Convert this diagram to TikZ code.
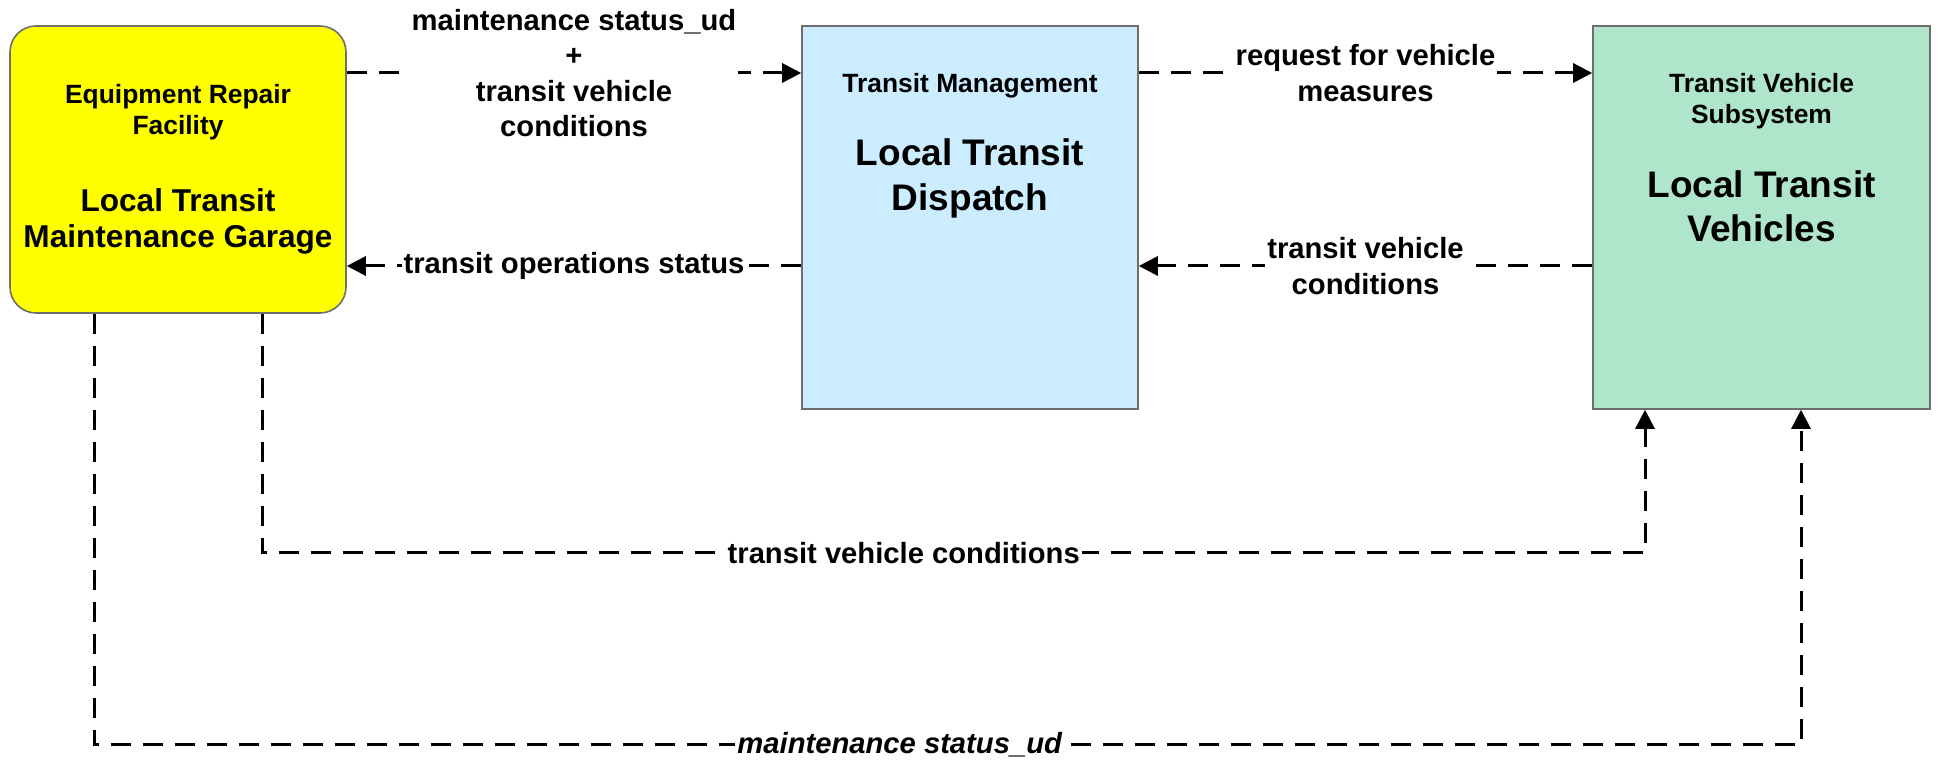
\documentclass[tikz,border=0pt]{standalone}
\usepackage{fontspec}
\setmainfont{Liberation Sans}
\usetikzlibrary{arrows.meta}
\definecolor{boxgray}{RGB}{110,110,110}
\definecolor{ylwfill}{RGB}{255,255,0}
\definecolor{blufill}{RGB}{204,236,255}
\definecolor{grnfill}{RGB}{174,229,203}
\newcommand{\labfont}{\fontsize{14.6}{17.6}\selectfont\bfseries}
\newcommand{\smfont}{\fontsize{13.2}{15.6}\selectfont\bfseries}
\newcommand{\bigfont}{\fontsize{18.5}{22}\selectfont\bfseries}
\newcommand{\ybigfont}{\fontsize{15.8}{18.6}\selectfont\bfseries}
\begin{document}
\begin{tikzpicture}[x=0.5pt,y=-0.5pt,
  box/.style={draw=boxgray, line width=0.8pt, inner sep=0pt, minimum width=168pt},
  flow/.style={line width=1.5pt, dash pattern=on 10pt off 6pt, -{Triangle[length=9.5pt,width=9.5pt]}},
  lab/.style={fill=white, inner xsep=1pt, inner ysep=0pt, align=center, font=\labfont},
  smtxt/.style={anchor=base, font=\smfont, inner sep=0pt},
  bigtxt/.style={anchor=base, font=\bigfont, inner sep=0pt},
  ybigtxt/.style={anchor=base, font=\ybigfont, inner sep=0pt}]
\useasboundingbox (0,0) rectangle (1939,763);
% boxes
\node[box, fill=ylwfill, rounded corners=13pt, minimum height=143.5pt] (ylw) at (178,169.5) {};
\node[box, fill=blufill, minimum height=191.5pt] (blu) at (970,217.5) {};
\node[box, fill=grnfill, minimum width=168.5pt, minimum height=191.5pt] (grn) at (1761.5,217.5) {};
% box texts
\node[smtxt] (ylw1) at (178,104) {Equipment Repair};
\node[smtxt] (ylw2) at (178,135) {Facility};
\node[ybigtxt] (ylw3) at (178,212) {Local Transit};
\node[ybigtxt] (ylw4) at (178,248) {Maintenance Garage};
\node[smtxt] (blu1) at (970,93) {Transit Management};
\node[bigtxt] (blu2) at (970,166) {Local Transit};
\node[bigtxt] (blu3) at (970,211) {Dispatch};
\node[smtxt] (grn1) at (1761.5,93) {Transit Vehicle};
\node[smtxt] (grn2) at (1761.5,124) {Subsystem};
\node[bigtxt] (grn3) at (1761.5,198) {Local Transit};
\node[bigtxt] (grn4) at (1761.5,242) {Vehicles};
% helper coordinates
\coordinate (ytop) at (0,73);
\coordinate (ymid) at (0,266);
\coordinate (p1) at (262,553);
\coordinate (p2) at (1645,553);
\coordinate (q1) at (94,745);
\coordinate (q2) at (1801,745);
% connectors
\draw[flow] (ylw.east |- ytop) -- node[lab] {maintenance status\_ud\\+\\transit vehicle\\conditions} (blu.west |- ytop);
\draw[flow] (blu.west |- ymid) -- node[lab] {transit operations status} (ylw.east |- ymid);
\draw[flow] (blu.east |- ytop) -- node[lab] {request for vehicle\\measures} (grn.west |- ytop);
\draw[flow] (grn.west |- ymid) -- node[lab] {transit vehicle\\conditions} (blu.east |- ymid);
\draw[flow] (ylw.south -| p1) -- (p1) -- node[lab, pos=0.464] {transit vehicle conditions} (p2) -- (grn.south -| p2);
\draw[flow] (ylw.south -| q1) -- (q1) -- node[lab, pos=0.472, font=\labfont\itshape] {maintenance status\_ud} (q2) -- (grn.south -| q2);
\end{tikzpicture}
\end{document}
